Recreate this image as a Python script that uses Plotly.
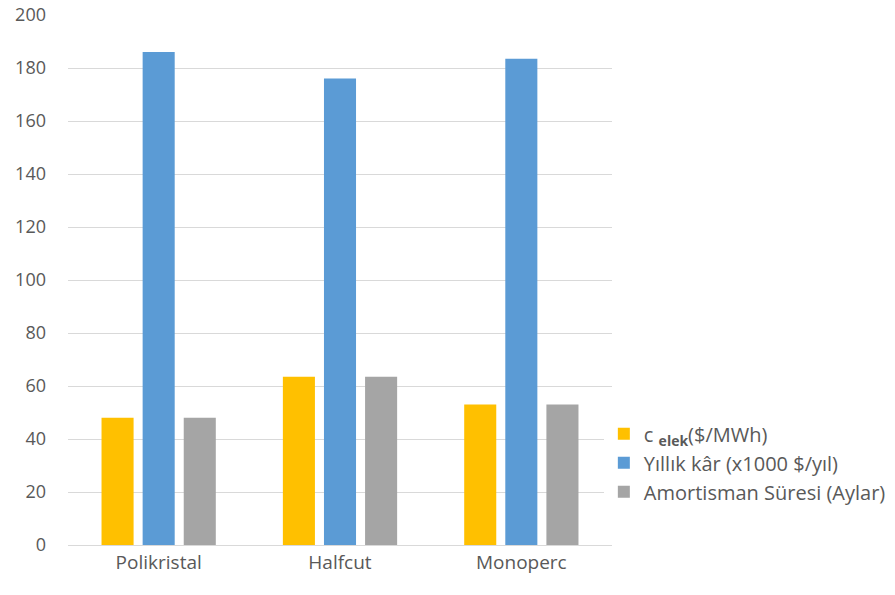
import plotly.graph_objects as go

categories = ["Polikristal", "Halfcut", "Monoperc"]
c_elek = [48, 63.5, 53]
yillik_kar = [186, 176, 183.5]
amortisman = [48, 63.5, 53]

series_names = ["c <sub><b>elek</b></sub>($/MWh)", "Yıllık kâr (x1000 $/yıl)", "Amortisman Süresi (Aylar)"]
colors = ["#FFC000", "#5B9BD5", "#A5A5A5"]

fig = go.Figure()
for i, (name, vals, col) in enumerate(zip(series_names, [c_elek, yillik_kar, amortisman], colors)):
    fig.add_trace(go.Bar(x=categories, y=vals, name=name, legendgroup=f"g{i}",
                         marker=dict(color=col, line=dict(width=0))))

fig.update_layout(
    width=895, height=595,
    margin=dict(l=68, r=283, t=15, b=50, autoexpand=False),
    paper_bgcolor="white", plot_bgcolor="white",
    barmode="group", bargap=0.32, bargroupgap=0.22,
    font=dict(family="Open Sans, sans-serif", size=19, color="#595959"),
    legend=dict(x=0.985, xanchor="left", y=0.155, yanchor="middle",
                font=dict(size=20, color="#595959"), tracegroupgap=0,
                itemwidth=30),
    xaxis=dict(showgrid=False, showline=True, linecolor="#D9D9D9", linewidth=1,
               ticks="", automargin=False, tickfont=dict(size=19, color="#595959")),
    yaxis=dict(range=[0, 200], dtick=20, showgrid=True, gridcolor="#D9D9D9", gridwidth=1,
               zeroline=False, showline=False, ticks="", ticklabelstandoff=21,
               ticklabeloverflow="allow", automargin=False,
               tickfont=dict(size=18, color="#595959")),
)

fig.write_html("out.html", config={"displayModeBar": False},
               post_script="document.body.style.margin='0';document.body.style.padding='0';")
